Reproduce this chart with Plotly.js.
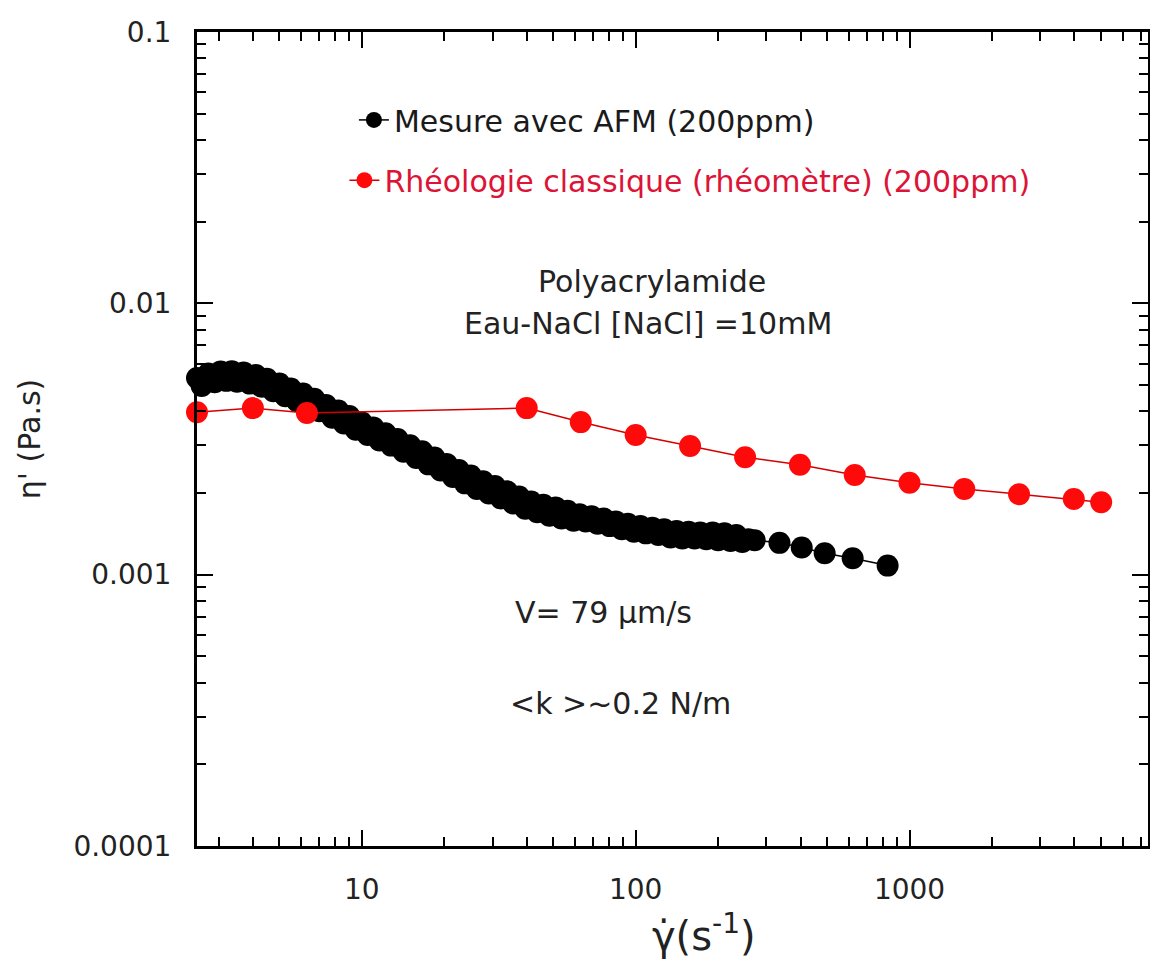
<!DOCTYPE html>
<html>
<head>
<meta charset="utf-8">
<script src="https://cdn.plot.ly/plotly-3.0.1.min.js"></script>
<style>html,body{margin:0;padding:0;background:#fff;}#chart{width:1150px;height:967px;}</style>
</head>
<body>
<div id="chart"></div>
<script>
const afmShearRate = [
  2.5, 2.6, 2.75, 2.9, 3.05, 3.2, 3.35, 3.5, 3.7, 3.9,
  4.1, 4.3, 4.5, 4.75, 5.0, 5.25, 5.5, 5.8, 6.1, 6.4,
  6.7, 7.0, 7.4, 7.8, 8.2, 8.6, 9.0, 9.5, 10, 10.5,
  11, 11.6, 12.2, 12.8, 13.5, 14.2, 15, 15.8, 16.6, 17.5,
  18.4, 19.4, 20.4, 21.5, 22.6, 23.8, 25, 26.3, 27.7, 29.1,
  30.6, 32.2, 33.9, 35.7, 37.5, 39.5, 41.5, 43.7, 46, 48.4,
  51, 53.6, 56.4, 59.3, 62.4, 65.7, 69, 72.6, 76.4, 80.4,
  84.6, 89, 93.6, 98.5, 104, 109, 115, 121, 127, 134,
  141, 148, 156, 164, 172, 181, 191, 200, 211, 222,
  233, 245, 258, 272, 335, 404, 490, 620, 832
];
const afmViscosity = [
  0.00531, 0.00496, 0.00551, 0.00512, 0.00561, 0.00518, 0.00562, 0.00514, 0.00556, 0.00506,
  0.00544, 0.00493, 0.00527, 0.00474, 0.00506, 0.00455, 0.00485, 0.00436, 0.00465, 0.00418,
  0.00445, 0.00400, 0.00422, 0.00379, 0.00403, 0.00361, 0.00384, 0.00342, 0.00364, 0.00327,
  0.00349, 0.00312, 0.00332, 0.00299, 0.00316, 0.00284, 0.00300, 0.00269, 0.00285, 0.00255,
  0.00270, 0.00242, 0.00256, 0.00229, 0.00243, 0.00217, 0.00232, 0.00207, 0.00221, 0.00199,
  0.00212, 0.00191, 0.00203, 0.00183, 0.00194, 0.00175, 0.00186, 0.00170, 0.00181, 0.00165,
  0.00177, 0.00161, 0.00172, 0.00158, 0.00167, 0.00157, 0.00164, 0.00154, 0.00161, 0.00151,
  0.00157, 0.00147, 0.00154, 0.00144, 0.00151, 0.00142, 0.00149, 0.00140, 0.00147, 0.00137,
  0.00145, 0.00136, 0.00144, 0.00136, 0.00143, 0.00135, 0.00143, 0.00134, 0.00142, 0.00133,
  0.00140, 0.00132, 0.00135, 0.00134, 0.00131, 0.00126, 0.00120, 0.00115, 0.00108
];

// Classical rheology (rheometer, 200 ppm)
const rheoShearRate = [2.5, 4, 6.3, 40, 63, 100, 158, 251, 398, 631, 1000, 1585, 2512, 3981, 5012];
const rheoViscosity = [0.00397, 0.00411, 0.00394, 0.00411, 0.00365, 0.00327, 0.00298, 0.00271, 0.00254, 0.00233, 0.00218, 0.00207, 0.00198, 0.00190, 0.00185];

const seriesNames = ["Mesure avec AFM (200ppm)", "Rhéologie classique (rhéomètre) (200ppm)"];
const yTickVals = [0.0001, 0.001, 0.01, 0.1];
const yTickText = ["0.0001", "0.001", "0.01", "0.1"];
const xTickVals = [10, 100, 1000];
const xTickText = ["10", "100", "1000"];
const noteTexts = ["Polyacrylamide", "Eau-NaCl [NaCl] =10mM", "V= 79 µm/s", "&lt;k &gt;~0.2 N/m"];
// invisible spacer (transparent) shifts the centred title to the right like in the original
const xTitle = '<span style="color:rgba(255,255,255,0)">sss</span>γ̇(s<sup>-1</sup>)';
const yTitle = "η' (Pa.s)";

const FONT = "DejaVu Sans, Liberation Sans, Arial, sans-serif";

const traces = [
  {
    x: afmShearRate, y: afmViscosity, name: seriesNames[0],
    type: "scatter", mode: "lines+markers", cliponaxis: false,
    line: {color: "#000000", width: 1.5},
    marker: {color: "#000000", size: 22, symbol: "circle"},
    legend: "legend"
  },
  {
    x: rheoShearRate, y: rheoViscosity, name: seriesNames[1],
    type: "scatter", mode: "lines+markers", cliponaxis: false,
    line: {color: "#d40000", width: 1.5},
    marker: {color: "#ff0a0a", size: 22, symbol: "circle"},
    legend: "legend2"
  }
];

const axisCommon = {
  type: "log",
  showgrid: false,
  zeroline: false,
  showline: true,
  linecolor: "#000",
  linewidth: 3,
  mirror: "allticks",
  ticks: "inside",
  ticklen: 16,
  tickwidth: 2,
  tickcolor: "#000",
  tickfont: {family: FONT, size: 28, color: "#222"},
  minor: {ticks: "inside", ticklen: 9, tickwidth: 2, tickcolor: "#000", dtick: "D1", showgrid: false}
};

const layout = {
  width: 1150, height: 967,
  margin: {l: 197, r: 2, t: 32, b: 121},
  paper_bgcolor: "#fff", plot_bgcolor: "#fff",
  font: {family: FONT, color: "#222"},
  showlegend: true,
  xaxis: Object.assign({}, axisCommon, {
    range: [Math.log10(2.5), 3.871],
    tickvals: xTickVals, ticktext: xTickText,
    ticklabelstandoff: 16,
    automargin: false,
    title: {text: xTitle, font: {family: FONT, size: 40, color: "#222"}, standoff: 18}
  }),
  yaxis: Object.assign({}, axisCommon, {
    range: [-4, -1],
    tickvals: yTickVals, ticktext: yTickText,
    ticklabelstandoff: 17,
    automargin: false,
    title: {text: yTitle, font: {family: FONT, size: 30, color: "#222"}, standoff: 24}
  }),
  legend: {
    x: 0.165, y: 0.892, xanchor: "left", yanchor: "middle",
    bgcolor: "rgba(0,0,0,0)", borderwidth: 0,
    font: {family: FONT, size: 30, color: "#1a1a1a"}
  },
  legend2: {
    x: 0.155, y: 0.818, xanchor: "left", yanchor: "middle",
    bgcolor: "rgba(0,0,0,0)", borderwidth: 0,
    font: {family: FONT, size: 30, color: "#dc1437"}
  },
  annotations: [
    {text: noteTexts[0], xref: "paper", yref: "paper", x: 0.478, y: 0.717, showarrow: false, font: {family: FONT, size: 30, color: "#222"}},
    {text: noteTexts[1], xref: "paper", yref: "paper", x: 0.474, y: 0.6425, showarrow: false, font: {family: FONT, size: 30, color: "#222"}},
    {text: noteTexts[2], xref: "paper", yref: "paper", x: 0.427, y: 0.263, showarrow: false, font: {family: FONT, size: 30, color: "#222"}},
    {text: noteTexts[3], xref: "paper", yref: "paper", x: 0.445, y: 0.151, showarrow: false, font: {family: FONT, size: 30, color: "#222"}}
  ]
};

Plotly.newPlot("chart", traces, layout, {displayModeBar: false, staticPlot: true});
</script>
</body>
</html>
